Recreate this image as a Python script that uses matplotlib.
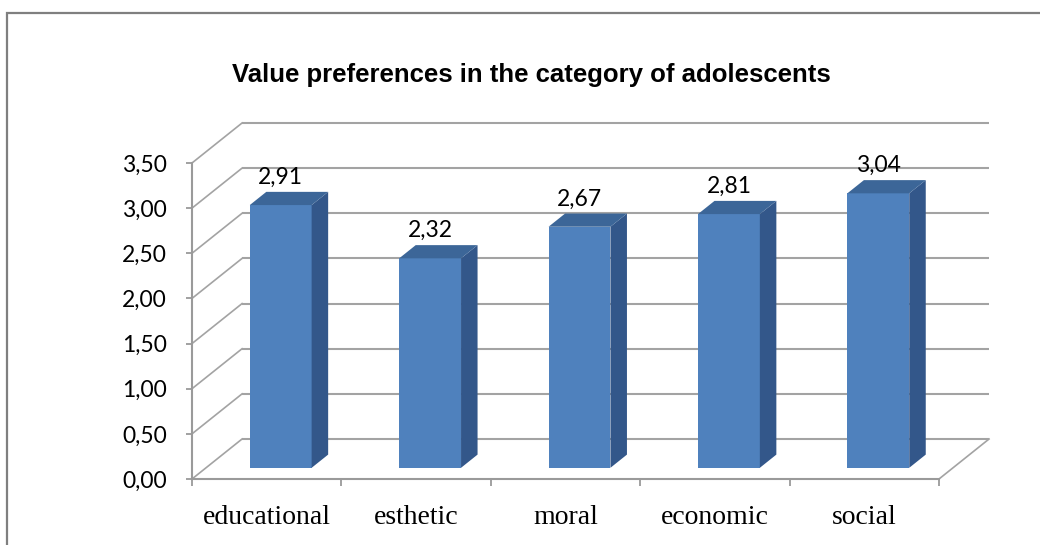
import matplotlib
matplotlib.use("Agg")
import matplotlib.pyplot as plt
import numpy as np
from matplotlib.patches import Polygon, Rectangle

plt.rcParams["font.family"] = ["Lato", "DejaVu Sans"]

categories = ["educational", "esthetic", "moral", "economic", "social"]
values = [2.91, 2.32, 2.67, 2.81, 3.04]
yticks = [0.0, 0.5, 1.0, 1.5, 2.0, 2.5, 3.0, 3.5]
title = "Value preferences in the category of adolescents"

# pseudo-3d geometry (data units)
DX, DY = 0.335, 0.443      # depth offset of the back wall
F0, BD = 0.28, 0.33        # bar front depth / bar depth (fraction of DX, DY)
W = 0.414                  # bar width
GRID = "#a3a3a3"
SPINE = "#9a9a9a"
FRONT, TOP, SIDE = "#4f81bd", "#3c6698", "#33578a"

fig = plt.figure(figsize=(10.4, 5.45), dpi=100)
fig.patches.append(Rectangle((7 / 1040, -0.1), 1.2, 1.1 - 13 / 545,
                             transform=fig.transFigure, fill=False,
                             ec="#7f7f7f", lw=1.6))
fig.text(531 / 1040, 1 - 82 / 545, title, ha="center", va="baseline",
         fontsize=18.5, fontweight="bold", family=["Liberation Sans", "DejaVu Sans"])

ax = fig.add_axes([0.17025, 0.08797, 0.80446, 0.69580])
ax.set_xlim(-0.1, 5.5)
ax.set_ylim(-0.2, 4.0)
n = len(categories)

# back wall + left wall lines
for t in yticks:
    ax.plot([DX, n + DX], [t + DY, t + DY], color=GRID, lw=1.5, zorder=1,
            clip_on=False, solid_capstyle="butt")
    ax.plot([0, DX], [t, t + DY], color=GRID, lw=1.2, zorder=1, clip_on=False)
ax.plot([n, n + DX], [0, DY], color=GRID, lw=1.2, zorder=1, clip_on=False)

# bars
xs = np.arange(n) + 0.5 + F0 * DX
base = F0 * DY
ax.bar(xs, values, W, bottom=base, color=FRONT, zorder=3)
for x, v in zip(xs, values):
    xl, xr, top = x - W / 2, x + W / 2, v + base
    ox, oy = BD * DX, BD * DY
    ax.add_patch(Polygon([(xr, base), (xr + ox, base + oy), (xr + ox, top + oy), (xr, top)],
                         closed=True, fc=SIDE, ec="none", zorder=3))
    ax.add_patch(Polygon([(xl, top), (xr, top), (xr + ox, top + oy), (xl + ox, top + oy)],
                         closed=True, fc=TOP, ec="none", zorder=3))
    ax.text(x, top + oy + 0.16, f"{v:.2f}".replace(".", ","), ha="center",
            va="center", fontsize=16.5, zorder=4)

# axes
for s in ("top", "right"):
    ax.spines[s].set_visible(False)
for s in ("left", "bottom"):
    ax.spines[s].set_color(SPINE)
    ax.spines[s].set_linewidth(1.5)
    ax.spines[s].set_position(("data", 0))
    ax.spines[s].set_zorder(2)
ax.spines["left"].set_bounds(0, yticks[-1])
ax.spines["bottom"].set_bounds(0, n)

ax.set_yticks(yticks)
ax.set_yticklabels([f"{t:.2f}".replace(".", ",") for t in yticks])
ax.tick_params(axis="y", direction="out", length=4, width=1.3, color=SPINE,
               pad=14, labelsize=16.5)
ax.set_xticks(range(n + 1))
ax.set_xticklabels([])
ax.tick_params(axis="x", which="major", direction="out", length=5, width=1.3,
               color=SPINE)
ax.set_xticks(np.arange(n) + 0.5, minor=True)
ax.set_xticklabels(categories, minor=True, family=["Liberation Serif", "DejaVu Serif"],
                   fontsize=20)
ax.tick_params(axis="x", which="minor", length=0, pad=19)
ax.patch.set_visible(False)

fig.savefig("out.png", dpi=100)
